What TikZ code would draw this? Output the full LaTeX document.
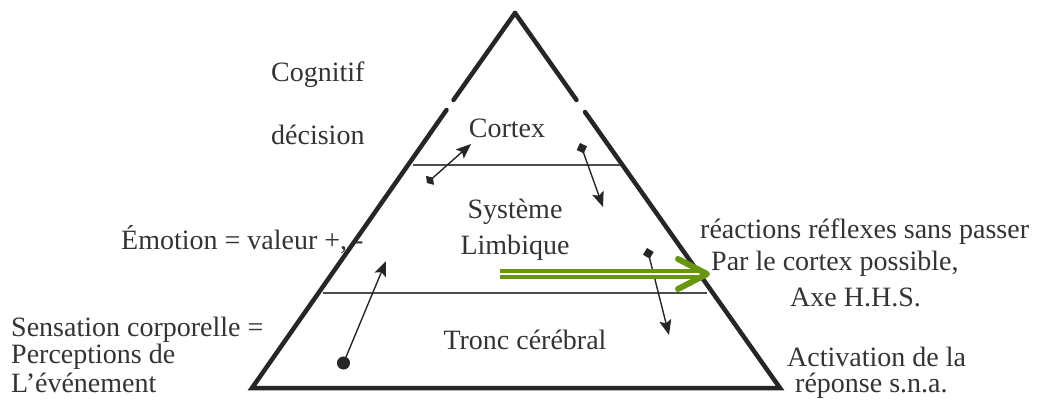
\documentclass[tikz,border=0pt]{standalone}
\usepackage{fontspec}
\setmainfont{Liberation Serif}
\usepackage{tikz}
\usetikzlibrary{arrows.meta}

\definecolor{axegreen}{RGB}{104,150,16}

\begin{document}
\begin{tikzpicture}[x=1pt,y=-1pt,
  txt/.style={font=\fontsize{28}{28}\selectfont, inner sep=0pt, text=black!80},
  side/.style={line width=4.5pt, black!85, line cap=round, line join=miter},
  layer/.style={line width=1.4pt, black!70},
  link/.style={line width=1.4pt, black!85},
  axe/.style={axegreen, line width=4.5pt, double=white, double distance=1.6pt},
  barb/.style={axegreen, line width=6pt, line cap=round, line join=round}]
\useasboundingbox (0,0) rectangle (1048,407);
% Pyramide : cortex, système limbique, tronc cérébral
\coordinate (A) at (515,13);
\coordinate (B) at (252,388);
\coordinate (C) at (780,388);
\draw[side] (A) -- (453.5,100);
\draw[side] (446.5,110) -- (B) -- (C) -- (585,112);
\draw[side] (576.5,100) -- (A);
\draw[layer] (413,165) -- (620,165);
\draw[layer] (323,293) -- (707,293);
\node[txt] (cortex) at (507,128) {Cortex};
\node[txt, align=center] (limbique) at (515,230) {Système\\[8pt]Limbique};
\node[txt] (tronc) at (525,340) {Tronc cérébral};
% fleches entre les niveaux
\coordinate (p1) at (427,183);
\coordinate (q1) at (471,144);
\coordinate (p2) at (580,143);
\coordinate (q2) at (603,207);
\coordinate (p3) at (341,369);
\coordinate (q3) at (386,261);
\coordinate (p4) at (647,248);
\coordinate (q4) at (669,335);
\draw[link, {Turned Square[length=8pt,width=12pt]}-{Stealth[length=15pt,width=12pt,inset=3pt]}] (p1) -- (q1);
\draw[link, {Turned Square[length=11pt,width=11pt]}-{Stealth[length=15pt,width=12pt,inset=3pt]}] (p2) -- (q2);
\draw[link, {Circle[length=13pt]}-{Stealth[length=15pt,width=12pt,inset=3pt]}] (p3) -- (q3);
\draw[link, {Turned Square[length=11pt,width=11pt]}-{Stealth[length=15pt,width=12pt,inset=3pt]}] (p4) -- (q4);
% textes a gauche
\node[txt, anchor=west] (cognitif) at (271,75) {Cognitif};
\node[txt, anchor=west] (decision) at (271,135) {décision};
\node[txt, anchor=west] (emotion) at (121,240) {Émotion = valeur +, -};
\node[txt, anchor=west, align=left] (sensation) at (11,355)
  {Sensation corporelle =\\[-0.5pt]Perceptions de\\[1pt]L’événement};
% textes a droite
\node[txt, anchor=west] (reflexes) at (700,232) {réactions réflexes sans passer};
\node[txt, anchor=west] (parcortex) at (711,264) {Par le cortex possible,};
\node[txt, anchor=west] (hhs) at (790,297) {Axe H.H.S.};
\node[txt, anchor=west] (activation) at (787,357) {Activation de la};
\node[txt, anchor=west] (reponse) at (795,386) {réponse s.n.a.};
% fleche verte vers le texte de droite
\coordinate (g0) at (500,274);
\coordinate (g1) at (707,274);
\draw[axe] (g0) -- ([xshift=-4pt]g1);
\draw[barb] ([shift={(-29,-15)}]g1) -- (g1) -- ([shift={(-29,15)}]g1);
\end{tikzpicture}
\end{document}
